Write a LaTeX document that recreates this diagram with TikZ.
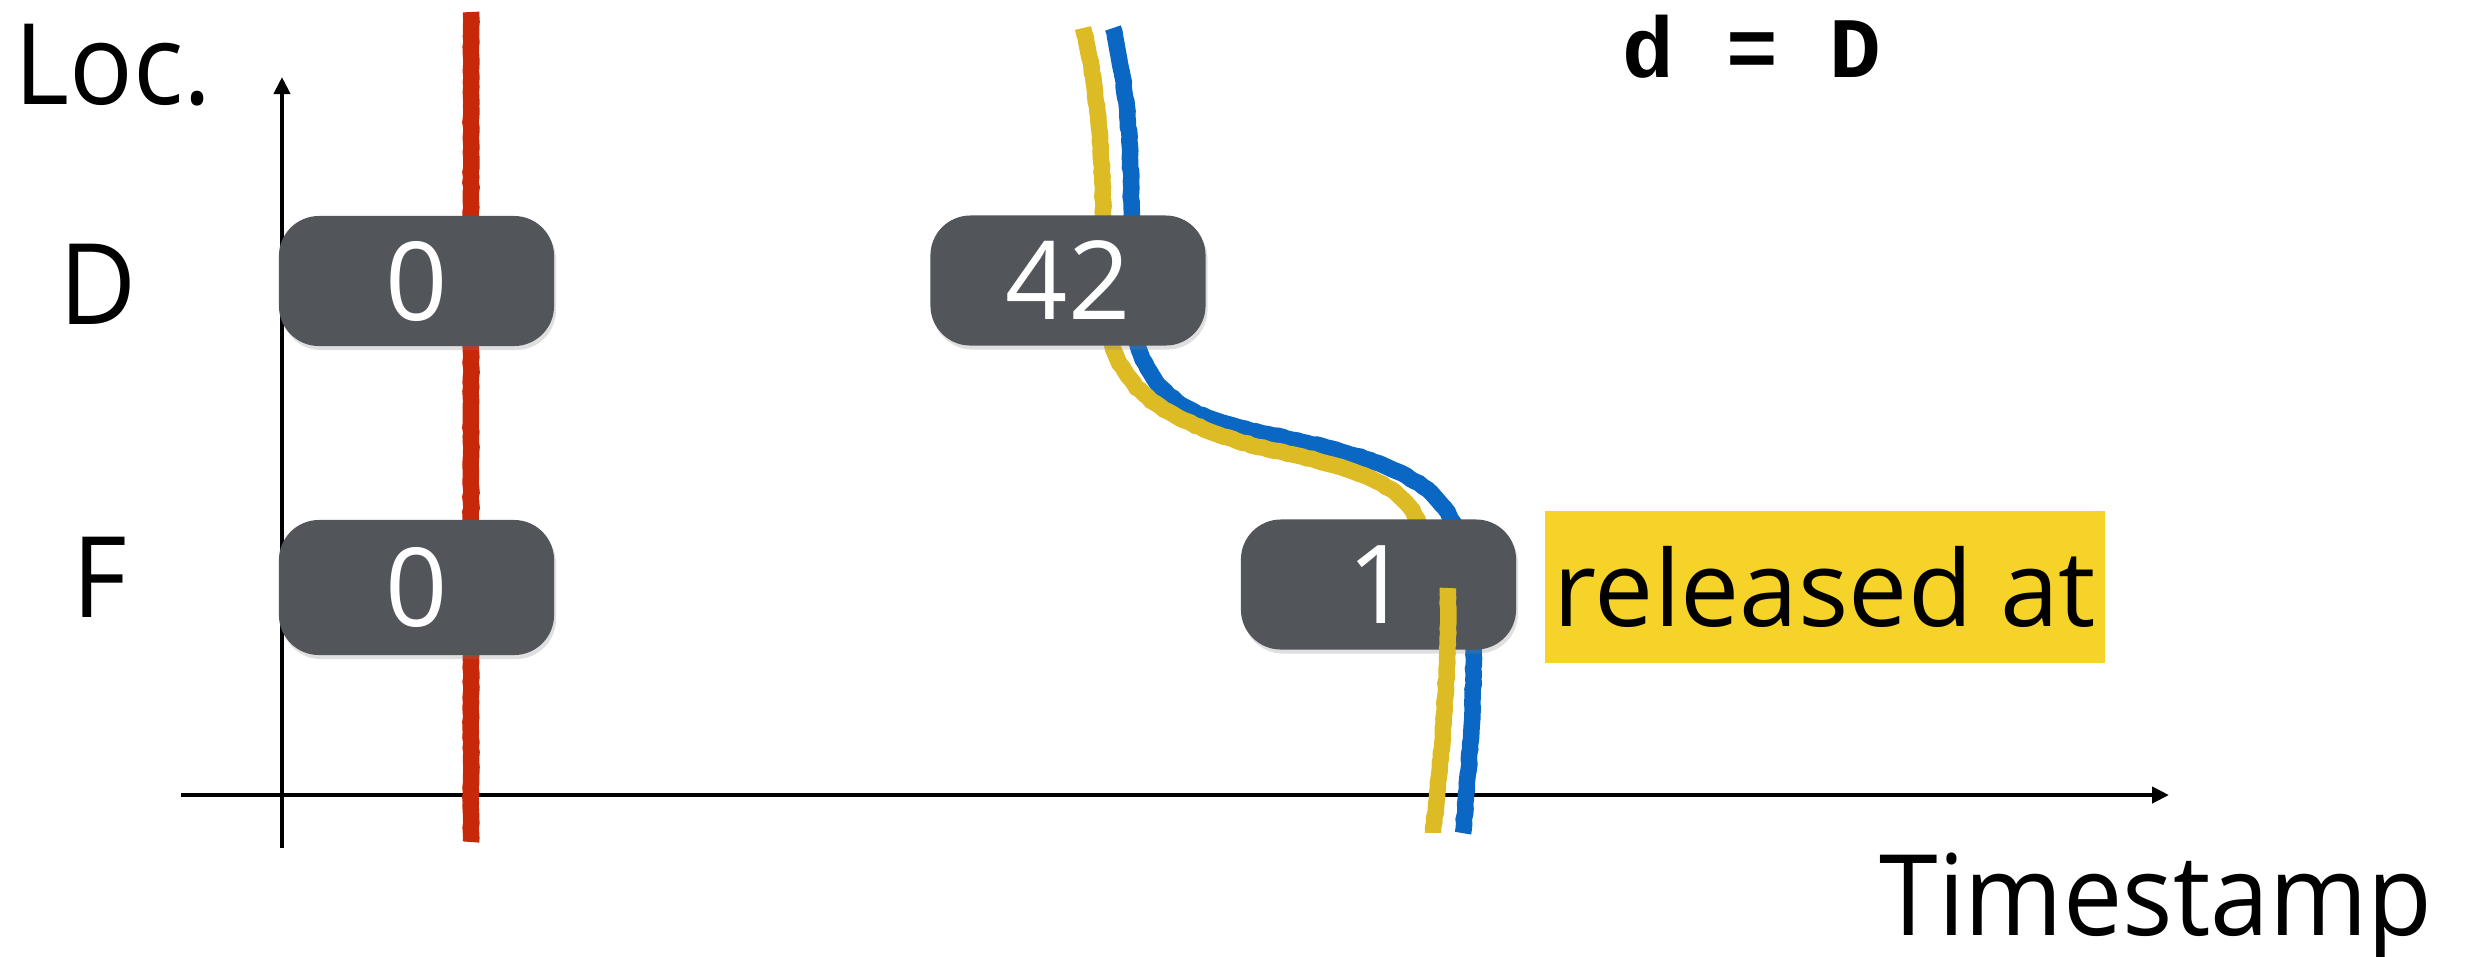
\documentclass[tikz,border=0pt]{standalone}
\usepackage{fontspec}
\setmainfont{Open Sans}
\newfontfamily\labelfamily{Open Sans}[FakeStretch=0.94]
\newfontfamily\codefont{Liberation Mono}
\usetikzlibrary{arrows.meta,shadows,decorations.pathmorphing}

\definecolor{boxgray}{HTML}{52565B}
\definecolor{crayonred}{HTML}{C8280A}
\definecolor{crayonyellow}{HTML}{DDBB24}
\definecolor{crayonblue}{HTML}{0A67C3}
\definecolor{tagyellow}{HTML}{F5D328}

\newcommand\labfont{\labelfamily\fontsize{32}{38}\selectfont}
\newcommand\tagfont{\fontsize{30}{36}\selectfont}
\newcommand\valfont{\fontsize{31}{36}\selectfont}
\newcommand\eqfont{\codefont\bfseries\fontsize{24.5}{28}\selectfont}

\begin{document}
\begin{tikzpicture}[x=0.01cm,y=-0.01cm,
  valbox/.style={fill=boxgray, rounded corners=0.4cm, minimum width=2.75cm,
    minimum height=1.3cm, inner sep=0pt, text=white, font=\valfont,
    drop shadow={shadow xshift=0.02cm, shadow yshift=-0.04cm, opacity=0.25}},
  axislabel/.style={font=\labfont, inner sep=0pt},
  tag/.style={fill=tagyellow, minimum width=5.6cm, minimum height=1.52cm,
    inner sep=0pt, font=\tagfont},
  axisline/.style={line width=0.04cm, -{Triangle[length=0.17cm,width=0.16cm]}},
  crayon/.style={line width=0.165cm, decorate,
    decoration={random steps, segment length=0.05cm, amplitude=0.006cm}},
]
\useasboundingbox (0,0) rectangle (2465,956);

% axes
\coordinate (xa0) at (181,795);
\coordinate (xa1) at (2169,795);
\coordinate (ya0) at (282,848);
\coordinate (ya1) at (282,77);
\draw[axisline] (xa0) -- (xa1);
\draw[axisline] (ya0) -- (ya1);

% axis labels
\node[axislabel] (loc) at (113,65.5) {Loc.};
\node[axislabel] (locD) at (98,284) {D};
\node[axislabel] (locF) at (100,577) {F};
\node[axislabel, anchor=base] (ts) at (2156,935) {Timestamp};

% condition
\node[inner sep=0pt, font=\eqfont, anchor=base] (cond) at (1752,77) {d = D};

% red time line
\coordinate (rtop) at (471,12);
\coordinate (rbot) at (471,842);
\draw[crayon, crayonred] (rtop) -- (rbot);

% yellow and blue traces (behind the boxes)
\draw[crayon, crayonblue] (1113,28) .. controls (1130,100) and (1133,160) .. (1131,300)
  .. controls (1136,390) and (1180,415) .. (1258,432)
  .. controls (1380,458) and (1440,475) .. (1460,540)
  .. controls (1480,620) and (1475,700) .. (1463,833);
\draw[crayon, crayonyellow] (1083,28) .. controls (1100,100) and (1104,160) .. (1104,300)
  .. controls (1110,390) and (1160,418) .. (1258,447)
  .. controls (1370,470) and (1415,487) .. (1425,545);

% value boxes
\node[valbox] (d0) at (416.5,281) {0};
\node[valbox, minimum height=1.35cm] (f0) at (416.5,587.5) {0};
\node[valbox] (d42) at (1068,280.5) {42};
\node[valbox] (f1) at (1378.5,584.5) {1};

% yellow trace leaving the box
\draw[crayon, crayonyellow] (1448,588) .. controls (1449,680) and (1441,760) .. (1433,833);

% tag
\node[tag] (rel) at (1825,587) {released at};
\end{tikzpicture}
\end{document}
